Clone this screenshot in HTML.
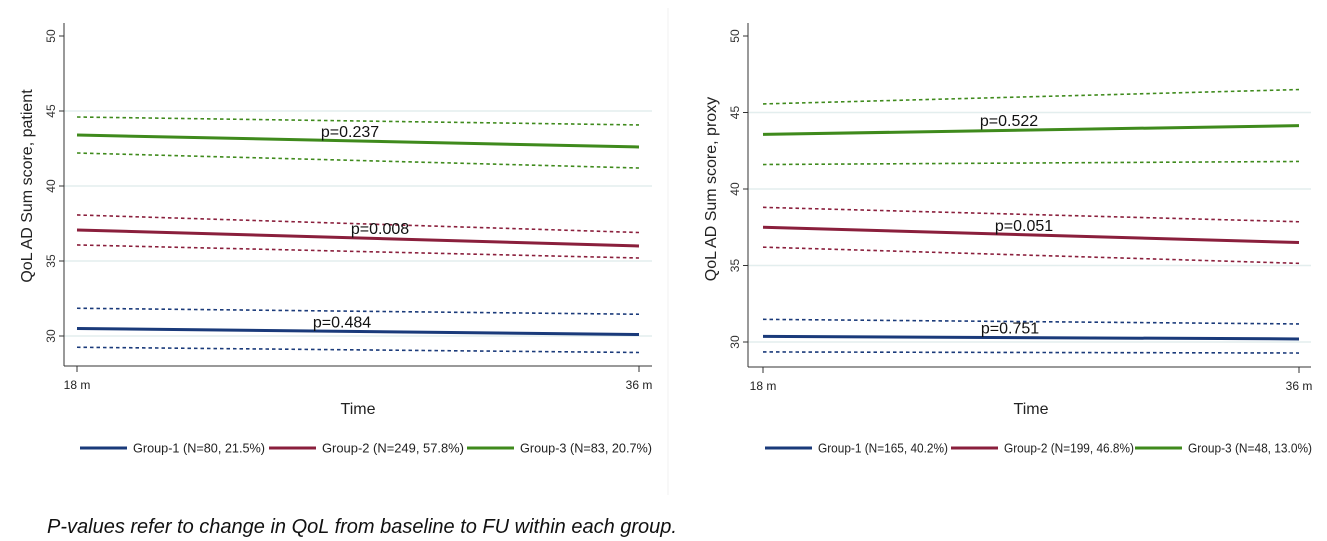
<!DOCTYPE html>
<html><head><meta charset="utf-8">
<style>
html,body{margin:0;padding:0;background:#fff;}
svg{display:block;font-family:"Liberation Sans",Arial,sans-serif;}
</style></head>
<body>
<svg id="chart" width="1327" height="541" viewBox="0 0 1327 541">
<line x1="668" y1="8" x2="668" y2="495" stroke="#f0f0f0" stroke-width="1"/>
<text x="47" y="533" font-size="20" font-style="italic" fill="#111">P-values refer to change in QoL from baseline to FU within each group.</text>
</svg>
<script>
var yTicks = [30, 35, 40, 45, 50];
var xCategories = ["18 m", "36 m"];
var groupNames = ["Group-1", "Group-2", "Group-3"];
var colors = ["#1a3a7a", "#8a1f3c", "#3f8a1c"];
// Left panel (patient)
var patLegend = ["Group-1 (N=80, 21.5%)", "Group-2 (N=249, 57.8%)", "Group-3 (N=83, 20.7%)"];
var patMean = [[30.5, 30.1], [37.07, 36.0], [43.4, 42.6]];
var patUpper = [[31.85, 31.45], [38.07, 36.9], [44.6, 44.07]];
var patLower = [[29.25, 28.9], [36.07, 35.2], [42.2, 41.2]];
var patP = ["p=0.484", "p=0.008", "p=0.237"];
// Right panel (proxy)
var proLegend = ["Group-1 (N=165, 40.2%)", "Group-2 (N=199, 46.8%)", "Group-3 (N=48, 13.0%)"];
var proMean = [[30.37, 30.2], [37.5, 36.5], [43.57, 44.14]];
var proUpper = [[31.48, 31.18], [38.8, 37.86], [45.56, 46.5]];
var proLower = [[29.35, 29.28], [36.2, 35.14], [41.6, 41.8]];
var proP = ["p=0.751", "p=0.051", "p=0.522"];

var NS = "http://www.w3.org/2000/svg";
var svg = document.getElementById("chart");
function mk(tag, attrs, parent, text) {
  var e = document.createElementNS(NS, tag);
  for (var k in attrs) e.setAttribute(k, attrs[k]);
  if (text !== undefined) e.textContent = text;
  (parent || svg).appendChild(e);
  return e;
}

function panel(cfg) {
  var g = mk("g", {});
  
  
  function xs(i) { return cfg.x0 + (cfg.x1 - cfg.x0) * i / (xCategories.length - 1); }
  function ys(v) { return cfg.y30 - (v - 30) * cfg.ppu; }
  yTicks.forEach(function (t) {
    if (t === 50) return;
    var gl = mk("line", {x1: cfg.ax, x2: cfg.right, y1: ys(t), y2: ys(t), stroke: "#e3eeee", "stroke-width": 1.5}, g);
    
    
  });
  var ya = mk("line", {x1: cfg.ax, x2: cfg.ax, y1: 23, y2: cfg.axy, stroke: "#333", "stroke-width": 1}, g);
  
  
  var xa = mk("line", {x1: cfg.ax, x2: cfg.right, y1: cfg.axy, y2: cfg.axy, stroke: "#333", "stroke-width": 1}, g);
  
  
  yTicks.forEach(function (t) {
    var y = ys(t);
    var tk = mk("line", {x1: cfg.ax - 5, x2: cfg.ax, y1: y, y2: y, stroke: "#333"}, g);
    
    
    var tl = mk("text", {x: cfg.ax - 9, y: y, "font-size": 12, fill: "#333", "text-anchor": "middle", transform: "rotate(-90 " + (cfg.ax - 9) + " " + y + ")"}, g, String(t));
    
    
  });
  xCategories.forEach(function (c, i) {
    var x = xs(i);
    var tk = mk("line", {x1: x, x2: x, y1: cfg.axy, y2: cfg.axy + 6, stroke: "#333"}, g);
    
    
    var tl = mk("text", {x: x, y: cfg.axy + 23, "font-size": 12, fill: "#222", "text-anchor": "middle"}, g, c);
    
    
  });
  var xt = mk("text", {x: (cfg.x0 + cfg.x1) / 2, y: 414, "font-size": 16, fill: "#222", "text-anchor": "middle"}, g, "Time");
  
  
  var yt = mk("text", {x: cfg.ax - 32, y: ys(40), "font-size": 16, fill: "#222", "text-anchor": "middle", transform: "rotate(-90 " + (cfg.ax - 32) + " " + ys(40) + ")"}, g, cfg.ytitle);
  
  
  for (var s = 0; s < groupNames.length; s++) {
    [[cfg.upper[s], "upper"], [cfg.lower[s], "lower"]].forEach(function (pair) {
      var d = pair[0];
      var l = mk("line", {x1: xs(0), y1: ys(d[0]), x2: xs(1), y2: ys(d[1]), stroke: colors[s], "stroke-width": 1.6, "stroke-dasharray": "3.5,3"}, g);
      
      
    });
    var m = cfg.mean[s];
    var ml = mk("line", {x1: xs(0), y1: ys(m[0]), x2: xs(1), y2: ys(m[1]), stroke: colors[s], "stroke-width": 3}, g);
    
    
    var mid = (m[0] + m[1]) / 2;
    var pt = mk("text", {x: cfg.px[s], y: ys(mid) - 4, "font-size": 16, fill: "#111", "text-anchor": "middle"}, g, cfg.p[s]);
    
    
    var lx = cfg.leg[s];
    var ll = mk("line", {x1: lx, x2: lx + 47, y1: 448, y2: 448, stroke: colors[s], "stroke-width": 3}, g);
    
    
    var lt = mk("text", {x: lx + 53, y: 452.5, "font-size": 12.5, fill: "#222", textLength: cfg.legw[s], lengthAdjust: "spacingAndGlyphs"}, g, cfg.legend[s]);
    
    
  }
}

panel({name: "patient-panel", ax: 64, right: 652, x0: 77, x1: 639, y30: 336, ppu: 15, axy: 366,
  ytitle: "QoL AD Sum score, patient", mean: patMean, upper: patUpper, lower: patLower, p: patP,
  px: [342, 380, 350], leg: [80, 269, 467], legend: patLegend, legw: [132, 142, 132]});
panel({name: "proxy-panel", ax: 748, right: 1311, x0: 763, x1: 1299, y30: 342, ppu: 15.3, axy: 367,
  ytitle: "QoL AD Sum score, proxy", mean: proMean, upper: proUpper, lower: proLower, p: proP,
  px: [1010, 1024, 1009], leg: [765, 951, 1135], legend: proLegend, legw: [130, 130, 124]});
</script>
</body></html>
